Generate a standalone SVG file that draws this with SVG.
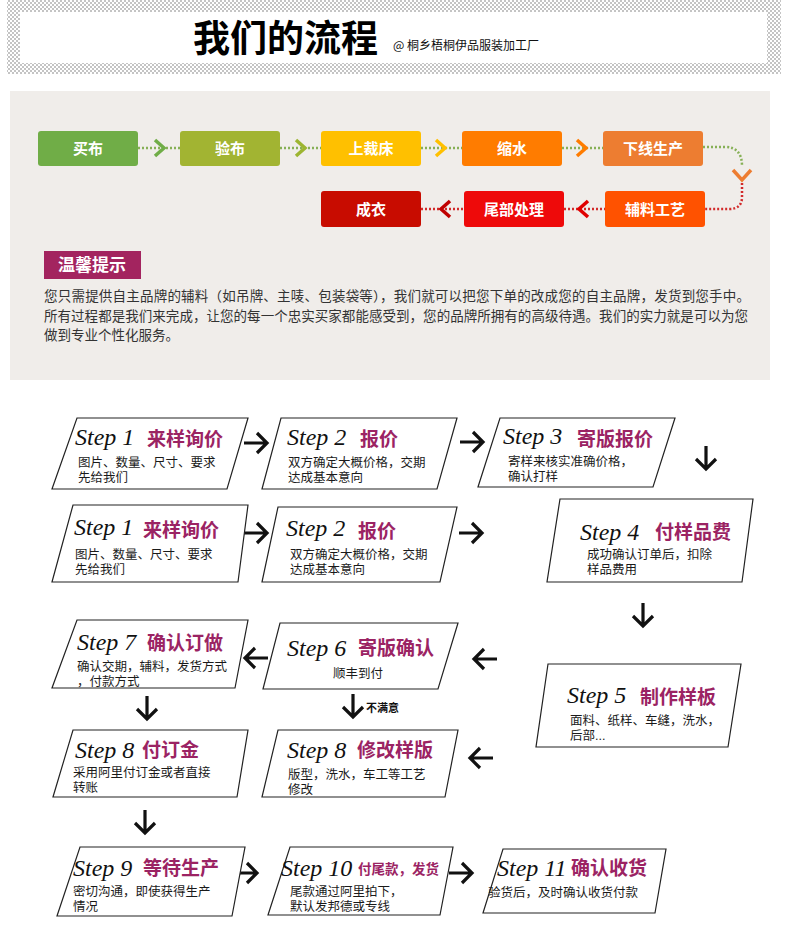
<svg xmlns="http://www.w3.org/2000/svg" width="790" height="935" viewBox="0 0 790 935">
<defs>
<pattern id="chk" width="4" height="4" patternUnits="userSpaceOnUse">
<rect width="4" height="4" fill="#ffffff"/>
<rect width="2" height="2" fill="#c4c4c4"/>
<rect x="2" y="2" width="2" height="2" fill="#c4c4c4"/>
</pattern>
<path id="ar" d="M0,0 H23 M13,-10 L23,0 L13,10" fill="none" stroke="#111" stroke-width="3.2"/>
<style>
.cjk{font-family:"Noto Sans CJK SC","Noto Sans",sans-serif}
.fb{fill:#fff;font-size:15px;font-weight:bold;text-anchor:middle}
.sh{fill:#fff;stroke:#222;stroke-width:1.2}
.st{font-family:"Liberation Serif","DejaVu Serif",serif;font-style:italic;font-size:24px;fill:#111}
.tt{fill:#9b2363;font-size:19px;font-weight:bold}
.bd{font-family:"Liberation Sans","Noto Sans CJK SC",sans-serif;fill:#1a1a1a;font-size:12.5px}
.dg{fill:none;stroke:#86b056;stroke-width:2.5;stroke-dasharray:2 2}
.dr{fill:none;stroke:#d22a2a;stroke-width:2.5;stroke-dasharray:2 2}
.cv{fill:none;stroke-width:3.5}
.p{fill:#333;font-size:13.5px}
</style>
</defs>

<g id="header">
<rect x="7" y="0" width="774" height="74" fill="url(#chk)"/>
<rect x="20" y="12" width="747" height="51" fill="#fff"/>
<text class="cjk" x="193" y="52" font-size="37" font-weight="bold" fill="#000">我们的流程</text>
<text class="cjk" x="393" y="50" font-size="12" fill="#111">@ 桐乡梧桐伊品服装加工厂</text>
</g>

<g id="panel">
<rect x="10" y="91" width="760" height="289" fill="#f0edea"/>
</g>

<g id="flow-connectors">
<line class="dg" x1="138" y1="148" x2="180" y2="148"/>
<line class="dg" x1="280" y1="148" x2="321" y2="148"/>
<line class="dg" x1="421" y1="148" x2="462" y2="148"/>
<line class="dg" x1="562" y1="148" x2="603" y2="148"/>
<path class="cv" stroke="#70ad47" d="M155,140 L164,148 L155,156"/>
<path class="cv" stroke="#9db531" d="M296,140 L305,148 L296,156"/>
<path class="cv" stroke="#ffc000" d="M436,140 L445,148 L436,156"/>
<path class="cv" stroke="#ff7c00" d="M577,140 L586,148 L577,156"/>
<path class="dg" d="M703,147 H725 Q742,147 742,166"/>
<path class="dr" d="M742,183 V197 Q742,209 729,209 H705"/>
<path class="cv" stroke="#ed7d31" d="M733,170 L742,180 L751,170"/>
<line class="dr" x1="564" y1="209" x2="605" y2="209"/>
<line class="dr" x1="421" y1="209" x2="464" y2="209"/>
<path class="cv" stroke="#e00000" d="M588,201 L579,209 L588,217"/>
<path class="cv" stroke="#c00000" d="M450,201 L441,209 L450,217"/>
</g>

<g id="f1"><rect x="38" y="131" width="100" height="35" rx="3" fill="#70ad47"/><text class="cjk fb" x="88" y="154">买布</text></g>
<g id="f2"><rect x="180" y="131" width="100" height="35" rx="3" fill="#a2b432"/><text class="cjk fb" x="230" y="154">验布</text></g>
<g id="f3"><rect x="321" y="131" width="100" height="35" rx="3" fill="#ffc000"/><text class="cjk fb" x="371" y="154">上裁床</text></g>
<g id="f4"><rect x="462" y="131" width="100" height="35" rx="3" fill="#ff7c00"/><text class="cjk fb" x="512" y="154">缩水</text></g>
<g id="f5"><rect x="603" y="131" width="100" height="35" rx="3" fill="#ed7d31"/><text class="cjk fb" x="653" y="154">下线生产</text></g>
<g id="f6"><rect x="605" y="191" width="100" height="36" rx="3" fill="#ff5200"/><text class="cjk fb" x="655" y="215">辅料工艺</text></g>
<g id="f7"><rect x="464" y="191" width="100" height="36" rx="3" fill="#ee0a0a"/><text class="cjk fb" x="514" y="215">尾部处理</text></g>
<g id="f8"><rect x="321" y="191" width="100" height="36" rx="3" fill="#c80c00"/><text class="cjk fb" x="371" y="215">成衣</text></g>

<g id="tip">
<rect x="44" y="251" width="97" height="28" fill="#a3245f"/>
<text class="cjk" x="92" y="271" font-size="17" font-weight="bold" fill="#fff" text-anchor="middle">温馨提示</text>
<text class="cjk p" x="44" y="301" textLength="706" lengthAdjust="spacing">您只需提供自主品牌的辅料（如吊牌、主唛、包装袋等），我们就可以把您下单的改成您的自主品牌，发货到您手中。</text>
<text class="cjk p" x="44" y="321" textLength="704" lengthAdjust="spacing">所有过程都是我们来完成，让您的每一个忠实买家都能感受到，您的品牌所拥有的高级待遇。我们的实力就是可以为您</text>
<text class="cjk p" x="44" y="340">做到专业个性化服务。</text>
</g>

<g id="step-connectors">
<use href="#ar" transform="translate(244,443)"/>
<use href="#ar" transform="translate(460,442)"/>
<use href="#ar" transform="translate(706,446) rotate(90)"/>
<use href="#ar" transform="translate(244,533)"/>
<use href="#ar" transform="translate(459,533)"/>
<use href="#ar" transform="translate(643,603) rotate(90)"/>
<use href="#ar" transform="translate(268,658) rotate(180)"/>
<use href="#ar" transform="translate(497,659) rotate(180)"/>
<use href="#ar" transform="translate(353,694) rotate(90)"/>
<text class="cjk" x="366" y="712" font-size="11" font-weight="bold" fill="#111">不满意</text>
<use href="#ar" transform="translate(147,696) rotate(90)"/>
<use href="#ar" transform="translate(493,758) rotate(180)"/>
<use href="#ar" transform="translate(145,810) rotate(90)"/>
<use href="#ar" transform="translate(234,873)"/>
<use href="#ar" transform="translate(449,873)"/>
</g>

<g id="s1a">
<polygon class="sh" points="77,418 248,418 227,489 52,489"/>
<text class="st" x="75" y="445">Step 1</text>
<text class="cjk tt" x="147" y="446">来样询价</text>
<text class="bd" x="78" y="467">图片、数量、尺寸、要求</text>
<text class="bd" x="78" y="482">先给我们</text>
</g>
<g id="s2a">
<polygon class="sh" points="281,418 457,418 437,489 262,489"/>
<text class="st" x="287" y="445">Step 2</text>
<text class="cjk tt" x="360" y="446">报价</text>
<text class="bd" x="288" y="467">双方确定大概价格，交期</text>
<text class="bd" x="288" y="482">达成基本意向</text>
</g>
<g id="s3">
<polygon class="sh" points="500,418 675,418 653,487 478,487"/>
<text class="st" x="503" y="444">Step 3</text>
<text class="cjk tt" x="577" y="446">寄版报价</text>
<text class="bd" x="508" y="466">寄样来核实准确价格，</text>
<text class="bd" x="508" y="481">确认打样</text>
</g>
<g id="s1b">
<polygon class="sh" points="73,505 248,505 238,582 52,582"/>
<text class="st" x="74" y="535">Step 1</text>
<text class="cjk tt" x="143" y="537">来样询价</text>
<text class="bd" x="75" y="559">图片、数量、尺寸、要求</text>
<text class="bd" x="75" y="574">先给我们</text>
</g>
<g id="s2b">
<polygon class="sh" points="278,507 457,507 440,582 262,582"/>
<text class="st" x="286" y="536">Step 2</text>
<text class="cjk tt" x="358" y="538">报价</text>
<text class="bd" x="290" y="559">双方确定大概价格，交期</text>
<text class="bd" x="290" y="574">达成基本意向</text>
</g>
<g id="s4">
<polygon class="sh" points="560,499 753,499 742,582 547,582"/>
<text class="st" x="580" y="540">Step 4</text>
<text class="cjk tt" x="655" y="539">付样品费</text>
<text class="bd" x="587" y="559">成功确认订单后，扣除</text>
<text class="bd" x="587" y="574">样品费用</text>
</g>
<g id="s7">
<polygon class="sh" points="77,620 248,620 235,688 52,688"/>
<text class="st" x="77" y="650">Step 7</text>
<text class="cjk tt" x="147" y="650">确认订做</text>
<text class="bd" x="77" y="671">确认交期，辅料，发货方式</text>
<text class="bd" x="77" y="686">，付款方式</text>
</g>
<g id="s6">
<polygon class="sh" points="280,623 458,623 438,689 263,689"/>
<text class="st" x="287" y="656">Step 6</text>
<text class="cjk tt" x="358" y="655">寄版确认</text>
<text class="bd" x="333" y="678">顺丰到付</text>
</g>
<g id="s5">
<polygon class="sh" points="548,664 741,664 728,747 536,747"/>
<text class="st" x="567" y="703">Step 5</text>
<text class="cjk tt" x="640" y="704">制作样板</text>
<text class="bd" x="570" y="725">面料、纸样、车缝，洗水，</text>
<text class="bd" x="570" y="740">后部...</text>
</g>
<g id="s8a">
<polygon class="sh" points="73,730 248,730 237,797 53,797"/>
<text class="st" x="75" y="758">Step 8</text>
<text class="cjk tt" x="142" y="757">付订金</text>
<text class="bd" x="73" y="777">采用阿里付订金或者直接</text>
<text class="bd" x="73" y="792">转账</text>
</g>
<g id="s8b">
<polygon class="sh" points="278,730 458,730 445,797 262,797"/>
<text class="st" x="287" y="758">Step 8</text>
<text class="cjk tt" x="357" y="757">修改样版</text>
<text class="bd" x="288" y="779">版型，洗水，车工等工艺</text>
<text class="bd" x="288" y="794">修改</text>
</g>
<g id="s9">
<polygon class="sh" points="80,847 245,847 232,916 57,916"/>
<text class="st" x="73" y="876">Step 9</text>
<text class="cjk tt" x="143" y="875">等待生产</text>
<text class="bd" x="73" y="896">密切沟通，即使获得生产</text>
<text class="bd" x="73" y="911">情况</text>
</g>
<g id="s10">
<polygon class="sh" points="290,847 453,847 440,915 268,915"/>
<text class="st" x="281" y="876">Step 10</text>
<text class="cjk tt" x="358" y="874" style="font-size:13.5px">付尾款，发货</text>
<text class="bd" x="290" y="896">尾款通过阿里拍下，</text>
<text class="bd" x="290" y="911">默认发邦德或专线</text>
</g>
<g id="s11">
<polygon class="sh" points="503,849 666,849 655,913 483,913"/>
<text class="st" x="497" y="876">Step 11</text>
<text class="cjk tt" x="571" y="875">确认收货</text>
<text class="bd" x="488" y="897">验货后，及时确认收货付款</text>
</g>
</svg>
